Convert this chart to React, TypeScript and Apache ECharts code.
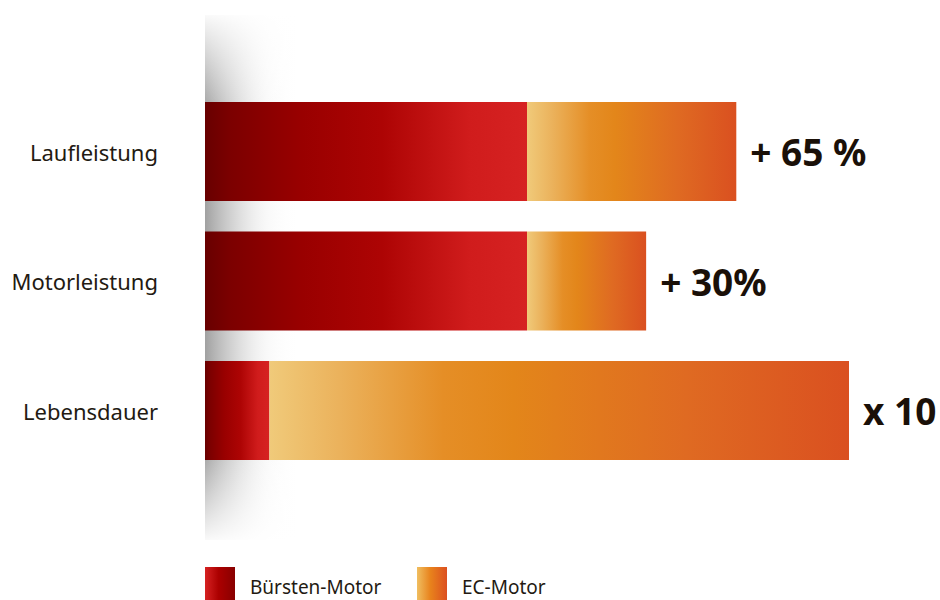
import React, { useEffect, useRef } from "react";
import * as echarts from "echarts";

const categories = ["Laufleistung", "Motorleistung", "Lebensdauer"];
const seriesNames = ["Bürsten-Motor", "EC-Motor"];
const buerstenValues = [100, 100, 20];
const ecValues = [65, 37, 180];
const valueLabels = ["+ 65 %", "+ 30%", "x 10"];

const FONT = "'Noto Sans', 'DejaVu Sans', sans-serif";
const TEXT = "#231a12";

const lg = (stops: [number, string][]) =>
  new echarts.graphic.LinearGradient(
    0, 0, 1, 0,
    stops.map(([offset, color]) => ({ offset, color }))
  );

const redStops: [number, string][] = [
  [0, "#680000"],
  [0.08, "#7c0000"],
  [0.3, "#990000"],
  [0.55, "#ad0404"],
  [0.82, "#d01c1c"],
  [1, "#d62222"],
];
const orangeStops: [number, string][] = [
  [0, "#f0ca7a"],
  [0.12, "#ebb25c"],
  [0.3, "#e58e26"],
  [0.42, "#e3861a"],
  [0.72, "#df6a22"],
  [1, "#da5020"],
];

const legendText = {
  fontFamily: FONT,
  fontSize: 19,
  color: TEXT,
  rich: {
    t: { fontFamily: FONT, fontSize: 19, color: TEXT, padding: [7, 0, 0, 10] },
  },
};

export default function App() {
  const ref = useRef<HTMLDivElement>(null);
  useEffect(() => {
    if (!ref.current) return;
    const chart = echarts.init(ref.current, undefined, { renderer: "svg" });
    chart.setOption({
      animation: false,
      backgroundColor: "#ffffff",
      grid: { left: 205, width: 644, top: 86.75, height: 388.5, containLabel: false },
      xAxis: {
        type: "value",
        min: 0,
        max: 200,
        show: false,
      },
      yAxis: {
        type: "category",
        data: categories,
        inverse: true,
        axisLine: { show: false },
        axisTick: { show: false },
        splitLine: { show: false },
        axisLabel: {
          margin: 47,
          fontFamily: FONT,
          fontSize: 22,
          color: TEXT,
        },
      },
      legend: [
        {
          left: 205,
          top: 567,
          itemWidth: 30,
          itemHeight: 33,
          icon: "rect",
          padding: 0,
          formatter: "{t|{name}}",
          textStyle: legendText,
          data: [
            {
              name: seriesNames[0],
              itemStyle: { color: lg([[0, "#d62222"], [0.45, "#ab0000"], [1, "#880000"]]) },
            },
          ],
        },
        {
          left: 417,
          top: 567,
          itemWidth: 30,
          itemHeight: 33,
          icon: "rect",
          padding: 0,
          formatter: "{t|{name}}",
          textStyle: legendText,
          data: [
            {
              name: seriesNames[1],
              itemStyle: { color: lg([[0, "#f0be60"], [0.45, "#e8821c"], [1, "#dc5020"]]) },
            },
          ],
        },
      ],
      graphic: [
        {
          type: "rect",
          z: 0,
          silent: true,
          shape: { x: 205, y: 15, width: 95, height: 525 },
          style: {
            fill: lg([
              [0, "rgba(150,150,150,0.9)"],
              [0.3, "rgba(185,185,185,0.6)"],
              [0.65, "rgba(230,230,230,0.25)"],
              [1, "rgba(255,255,255,0)"],
            ]),
          },
        },
        {
          type: "rect",
          z: 1,
          silent: true,
          shape: { x: 204, y: 10, width: 100, height: 92 },
          style: {
            fill: new echarts.graphic.LinearGradient(0, 0, 0, 1, [
              { offset: 0, color: "rgba(255,255,255,1)" },
              { offset: 0.15, color: "rgba(255,255,255,0.85)" },
              { offset: 1, color: "rgba(255,255,255,0.1)" },
            ]),
          },
        },
        {
          type: "rect",
          z: 1,
          silent: true,
          shape: { x: 204, y: 460, width: 100, height: 85 },
          style: {
            fill: new echarts.graphic.LinearGradient(0, 0, 0, 1, [
              { offset: 0, color: "rgba(255,255,255,0.1)" },
              { offset: 0.85, color: "rgba(255,255,255,0.85)" },
              { offset: 1, color: "rgba(255,255,255,1)" },
            ]),
          },
        },
      ],
      series: [
        {
          name: seriesNames[0],
          type: "bar",
          stack: "motor",
          barWidth: 99,
          z: 3,
          itemStyle: { color: lg(redStops) },
          data: buerstenValues,
        },
        {
          name: seriesNames[1],
          type: "bar",
          stack: "motor",
          barWidth: 99,
          z: 3,
          itemStyle: { color: lg(orangeStops) },
          label: {
            show: true,
            position: "right",
            distance: 14,
            fontFamily: FONT,
            fontSize: 37,
            fontWeight: "bold",
            color: "#1a1008",
            formatter: (p: any) => valueLabels[p.dataIndex],
          },
          data: ecValues,
        },
      ],
    });
    return () => chart.dispose();
  }, []);
  return (
    <div
      ref={ref}
      style={{ position: "fixed", left: 0, top: 0, width: 940, height: 600 }}
    />
  );
}
